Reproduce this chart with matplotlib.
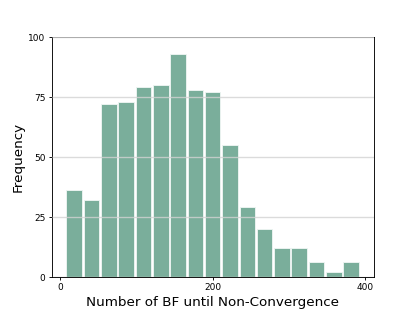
import numpy as np
import matplotlib
matplotlib.use('Agg')
import matplotlib.pyplot as plt

# histogram counts
counts = [36, 32, 72, 73, 79, 80, 93, 78, 77, 55, 29, 20, 12, 12, 6, 2, 6]
# bin range of the data
bin_min = 7.4
bin_max = 392.7
edges = np.linspace(bin_min, bin_max, len(counts) + 1)
centers = (edges[:-1] + edges[1:]) / 2

fig, ax = plt.subplots(figsize=(6.4, 4.8), dpi=415 / 6.4)

ax.hist(centers, bins=edges, weights=counts, color='#7aae9b',
        edgecolor='#eef5f2', linewidth=1.0, rwidth=0.9)

ax.set_axisbelow(False)
ax.yaxis.grid(True, color='lightgray', alpha=0.8, linewidth=1.5)
ax.set_ylim(0, 100)
ax.set_yticks([0, 25, 50, 75, 100])
ax.set_xticks([0, 200, 400])
ax.tick_params(labelsize=10, width=1.0)
for s in ax.spines.values():
    s.set_linewidth(1.0)

ax.set_xlabel('Number of BF until Non-Convergence', fontsize=15)
ax.set_ylabel('Frequency', fontsize=15)

plt.savefig('out.png')
